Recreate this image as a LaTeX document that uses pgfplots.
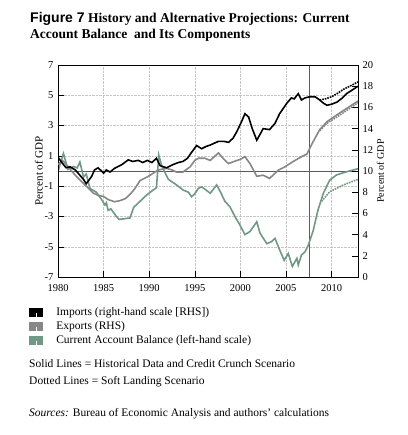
\documentclass[border=0pt]{standalone}
\usepackage{pgfplots}
\pgfplotsset{compat=1.18}
\usepackage{fontspec}
\setmainfont{Liberation Serif}
\newfontfamily\hel{Liberation Sans}
\definecolor{expc}{RGB}{135,135,135}
\definecolor{cac}{RGB}{112,152,132}
\definecolor{vline}{RGB}{90,90,115}
\pgfplotstableread{
x y
1980.0 11.3
1980.5 10.7
1980.9 10.3
1981.3 10.4
1981.9 10.1
1982.4 9.6
1982.8 9.2
1983.1 8.8
1983.7 9.5
1984.0 10.1
1984.4 10.3
1985.0 9.8
1985.3 10.1
1985.7 9.9
1986.2 10.25
1987.0 10.6
1987.7 11.05
1988.2 10.9
1988.8 11.0
1989.3 10.8
1989.8 11.0
1990.3 10.8
1990.8 11.2
1991.2 10.5
1991.9 10.3
1992.6 10.6
1993.2 10.8
1993.7 10.9
1994.2 11.2
1994.6 11.7
1995.2 12.4
1995.75 12.1
1996.2 12.3
1996.7 12.45
1997.6 12.8
1998.2 12.8
1998.7 12.7
1999.2 13.1
1999.6 13.7
2000.1 14.6
2000.5 15.4
2000.9 15.1
2001.3 14.0
2001.8 12.9
2002.5 14.0
2003.2 13.9
2003.8 14.5
2004.3 15.4
2004.7 15.9
2005.1 16.4
2005.6 16.9
2005.9 16.8
2006.35 17.3
2006.7 16.7
2007.1 16.9
2007.6 17.0
2008.2 17.0
2008.7 16.7
2009.1 16.4
2009.5 16.2
2010.0 16.3
2010.6 16.5
2011.2 16.9
2011.65 17.3
2012.2 17.6
2012.9 18.0
}\imports
\pgfplotstableread{
x y
2008.7 16.7
2009.3 16.8
2010.0 17.0
2010.6 17.3
2011.3 17.7
2012.0 18.0
2012.9 18.4
}\importsdot
\pgfplotstableread{
x y
1980.0 10.6
1980.5 11.0
1981.0 10.5
1981.9 9.6
1982.6 9.0
1983.3 8.4
1983.9 7.9
1984.4 7.7
1985.0 7.6
1985.5 7.3
1986.2 7.1
1986.8 7.2
1987.4 7.4
1987.9 7.8
1988.4 8.3
1989.0 9.1
1989.7 9.4
1990.1 9.6
1991.0 10.1
1991.9 10.25
1992.5 10.1
1993.0 9.9
1993.7 9.9
1994.5 10.4
1995.0 11.0
1995.4 11.2
1996.1 11.2
1996.7 11.0
1997.2 11.4
1997.6 11.7
1998.2 11.1
1998.7 10.7
1999.3 10.9
2000.0 11.1
2000.5 11.35
2001.05 10.7
2001.8 9.5
2002.5 9.6
2003.2 9.3
2003.7 9.7
2004.2 10.1
2004.9 10.4
2005.8 10.9
2006.6 11.3
2007.3 11.6
2008.0 12.8
2008.7 13.9
2009.5 14.65
2010.6 15.3
2011.65 15.9
2012.9 16.6
}\exports
\pgfplotstableread{
x y
2008.7 13.8
2009.5 14.5
2010.6 15.1
2011.65 15.7
2012.9 16.45
}\exportsdot
\pgfplotstableread{
x y
1980.0 -0.05
1980.3 0.6
1980.6 1.15
1980.9 0.5
1981.1 0.1
1981.7 0.3
1982.1 0.2
1982.4 0.6
1982.8 -0.4
1983.1 -0.2
1983.5 -1.15
1984.2 -1.4
1984.8 -1.9
1985.15 -2.25
1985.3 -2.1
1985.5 -2.6
1985.8 -2.5
1986.4 -3.0
1986.7 -3.2
1987.3 -3.15
1987.9 -3.1
1988.3 -2.4
1989.0 -2.0
1989.7 -1.6
1990.45 -1.25
1990.8 -1.1
1991.05 1.05
1991.4 0.3
1992.1 -0.55
1993.0 -0.92
1993.7 -1.25
1994.3 -1.4
1994.65 -1.7
1995.0 -1.5
1995.4 -1.15
1995.75 -1.04
1996.1 -1.2
1996.7 -1.47
1997.4 -0.92
1997.8 -1.37
1998.3 -2.0
1998.85 -2.36
1999.4 -3.0
1999.95 -3.57
2000.5 -4.2
2001.05 -4.0
2001.8 -3.35
2002.15 -4.1
2002.9 -4.8
2003.4 -4.67
2003.8 -4.45
2004.3 -5.2
2004.8 -5.9
2005.25 -5.45
2005.7 -6.3
2006.2 -5.77
2006.35 -6.2
2006.7 -5.55
2007.1 -5.33
2007.45 -4.9
2008.0 -3.9
2008.5 -2.6
2009.1 -1.47
2009.8 -0.6
2010.55 -0.26
2011.65 -0.05
2012.9 0.15
}\ca
\pgfplotstableread{
x y
2008.9 -2.0
2009.8 -1.37
2011.3 -0.92
2012.9 -0.55
}\cadot
\begin{document}
\begin{tikzpicture}
\useasboundingbox (0,0) rectangle (407pt,435pt);
\node[anchor=north west, align=left, inner sep=0pt, font=\fontsize{13.5}{16}\selectfont\bfseries] at (30pt,423pt)
 {{\hel\fontsize{14}{16}\selectfont Figure 7} History and Alternative Projections: Current\\Account Balance\ \ and Its Components};
\begin{axis}[
 at={(58pt,158pt)}, anchor=south west, width=300pt, height=212pt, scale only axis,
 xmin=1980, xmax=2012.9, ymin=-7, ymax=7,
 xtick={1980,1985,...,2010}, ytick={-7,-5,...,7},
 ytick pos=left, xtick pos=bottom,
 tick align=inside, major tick length=6pt,
 tick style={black, thin},
 grid=major, grid style={gray!45, densely dotted},
 axis line style={black, thin},
 /pgf/number format/assume math mode=true,
 /pgf/number format/1000 sep={},
 ticklabel style={font=\fontsize{10.5}{12}\selectfont},
 xticklabel style={yshift=-4pt},
 yticklabel style={xshift=-1pt},
 ylabel={Percent of GDP}, ylabel style={font=\fontsize{11}{12}\selectfont},
 ylabel shift=-5pt,
 legend style={at={(-0.096,-0.142)}, anchor=north west, draw=none, fill=none,
   font=\fontsize{11.5}{13}\selectfont, row sep=3.5pt, inner sep=0pt,
   nodes={inner sep=0.5pt}, column sep=13pt},
 legend cell align=left,
]
\addlegendimage{legend image code/.code={\fill[black] (0pt,0.7pt) rectangle (13pt,4pt); \fill[black] (0pt,-3.6pt) rectangle (5.8pt,-0.5pt); \fill[black] (7.2pt,-3.6pt) rectangle (13pt,-0.5pt);}}
\addlegendentry{Imports (right-hand scale [RHS])}
\addlegendimage{legend image code/.code={\fill[expc] (0pt,0.7pt) rectangle (13pt,4pt); \fill[expc] (0pt,-3.6pt) rectangle (5.8pt,-0.5pt); \fill[expc] (7.2pt,-3.6pt) rectangle (13pt,-0.5pt);}}
\addlegendentry{Exports (RHS)}
\addlegendimage{legend image code/.code={\fill[cac] (0pt,0.7pt) rectangle (13pt,4pt); \fill[cac] (0pt,-3.6pt) rectangle (5.8pt,-0.5pt); \fill[cac] (7.2pt,-3.6pt) rectangle (13pt,-0.5pt);}}
\addlegendentry{Current Account Balance (left-hand scale)}
\addplot[forget plot, gray!70!black, thin] coordinates {(1980,0) (2012.9,0)};
\addplot[forget plot, vline, thin] coordinates {(2007.5,-7) (2007.5,7)};
\addplot[forget plot, cac, line width=1.6pt, densely dotted] table {\cadot};
\addplot[forget plot, cac, line width=1.6pt] table {\ca};
\end{axis}
\begin{axis}[
 at={(58pt,158pt)}, anchor=south west, width=300pt, height=212pt, scale only axis,
 xmin=1980, xmax=2012.9, ymin=0, ymax=20,
 xtick=\empty, ytick={0,2,...,20},
 ytick pos=right,
 tick align=inside, major tick length=6pt,
 tick style={black, thin},
 axis line style={black, thin},
 /pgf/number format/assume math mode=true,
 ticklabel style={font=\fontsize{10.5}{12}\selectfont},
 yticklabel style={xshift=1pt},
 ylabel={Percent of GDP}, ylabel style={font=\fontsize{11}{12}\selectfont},
 ylabel near ticks, yticklabel pos=right, ylabel shift=-3pt,
]
\addplot[expc, line width=1.6pt, densely dotted] table {\exportsdot};
\addplot[expc, line width=1.6pt] table {\exports};
\addplot[black, line width=1.6pt, densely dotted] table {\importsdot};
\addplot[black, line width=1.6pt] table {\imports};
\end{axis}
\node[anchor=base west, font=\fontsize{11.5}{13}\selectfont, inner sep=0pt] at (29pt,67pt) {Solid Lines = Historical Data and Credit Crunch Scenario};
\node[anchor=base west, font=\fontsize{11.5}{13}\selectfont, inner sep=0pt] at (29pt,50pt) {Dotted Lines = Soft Landing Scenario};
\node[anchor=base west, font=\fontsize{11.5}{13}\selectfont, inner sep=0pt] at (29pt,18pt) {\textit{Sources:} Bureau of Economic Analysis and authors' calculations};
\end{tikzpicture}
\end{document}
